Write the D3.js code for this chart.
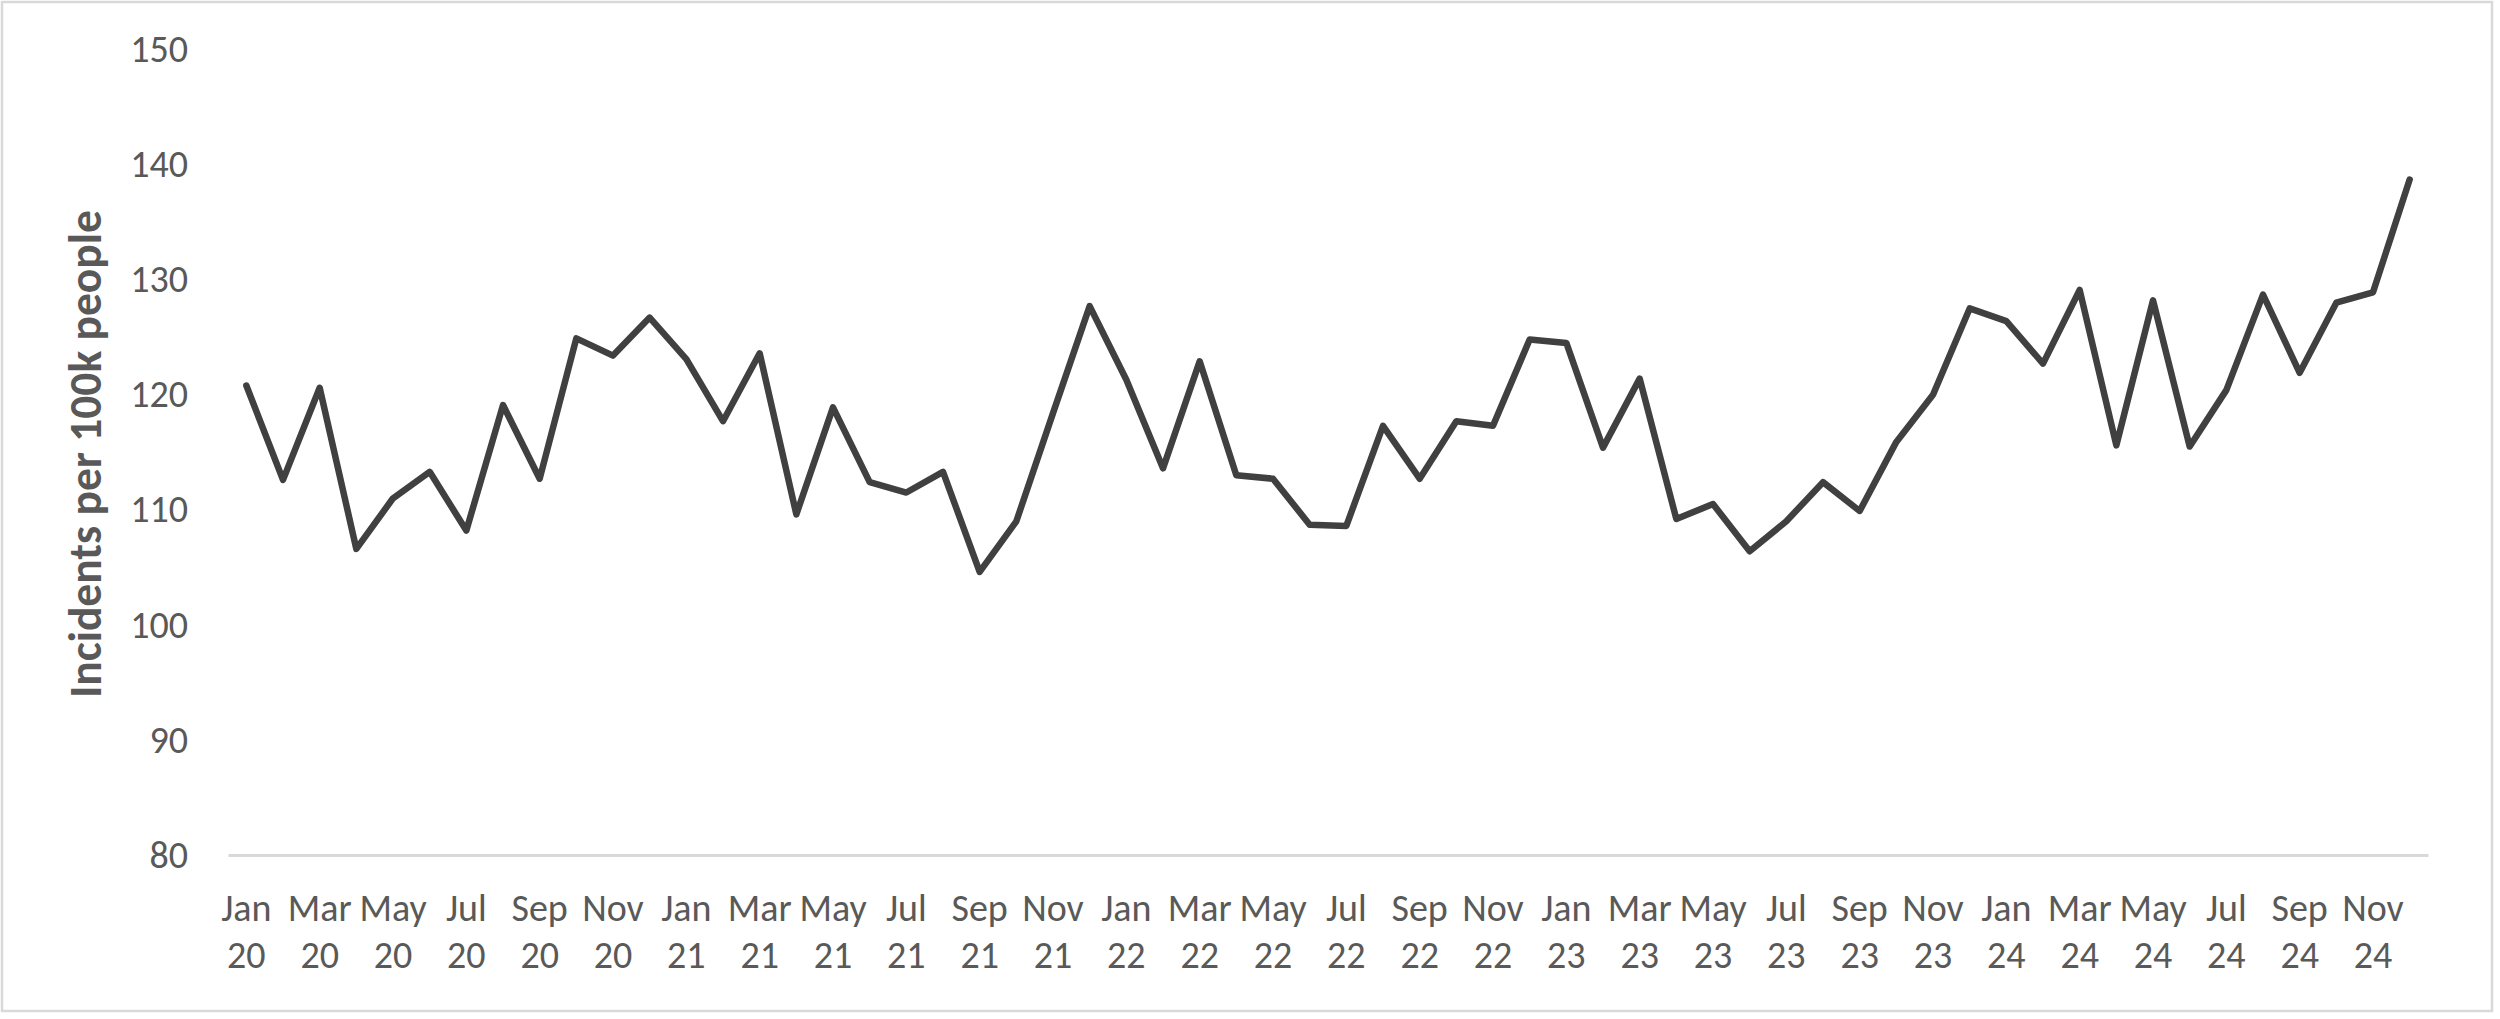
<!DOCTYPE html>
<html>
<head>
<meta charset="utf-8">
<title>Incidents per 100k people</title>
<script src="https://cdn.jsdelivr.net/npm/d3@7"></script>
<style>
  html, body { margin: 0; padding: 0; background: #fff; }
  #chart { width: 2500px; height: 1019px; }
</style>
</head>
<body>
<div id="chart"></div>
<script>
// 月份 / 年份
const monthNames = ['Jan', 'Feb', 'Mar', 'Apr', 'May', 'Jun', 'Jul', 'Aug', 'Sep', 'Oct', 'Nov', 'Dec']
const years = ['20', '21', '22', '23', '24']
// monthly incidents per 100k people, Jan 20 .. Dec 24
const values = [
  120.8, 112.6, 120.6, 106.6, 111.0, 113.3, 108.2, 119.1, 112.7, 124.9, 123.4, 126.7,
  123.1, 117.7, 123.6, 109.6, 118.9, 112.4, 111.5, 113.3, 104.6, 109.0, 118.4, 127.7,
  121.3, 113.6, 122.9, 113.0, 112.7, 108.7, 108.6, 117.3, 112.7, 117.7, 117.3, 124.8,
  124.5, 115.4, 121.4, 109.2, 110.5, 106.4, 109.0, 112.4, 109.9, 115.9, 120.0, 127.5,
  126.4, 122.7, 129.1, 115.6, 128.2, 115.5, 120.4, 128.7, 121.9, 128.0, 128.9, 138.7
]
const yTicks = [80, 90, 100, 110, 120, 130, 140, 150]
const yTitle = 'Incidents per 100k people'

class LineChart {
  /**
   * default settings
   */
  defaultSetting () {
    return {
      width: 2500,
      height: 1019,
      margin: { top: 49.5, right: 72, bottom: 164, left: 228 },
      lineColor: '#404040',
      lineWidth: 6.5,
      axisColor: '#d9d9d9',
      textColor: '#595959',
      font: 'Carlito, Calibri, Lato, sans-serif'
    }
  }

  constructor (selector, opt) {
    this.config = Object.assign({}, this.defaultSetting(), opt)
    const { width, height } = this.config
    this.svg = d3.select(selector)
      .append('svg')
      .attr('width', width)
      .attr('height', height)
    // outer frame
    this.svg.append('rect')
      .attr('x', 2)
      .attr('y', 2)
      .attr('width', width - 10)
      .attr('height', height - 10)
      .attr('fill', '#fff')
      .attr('stroke', this.config.axisColor)
      .attr('stroke-width', 2.5)
  }

  render (categories, data) {
    const { width, height, margin, textColor, font } = this.config

    this.x = d3.scaleBand()
      .domain(categories)
      .range([margin.left, width - margin.right])
    this.y = d3.scaleLinear()
      .domain([yTicks[0], yTicks[yTicks.length - 1]])
      .range([height - margin.bottom, margin.top])

    this.renderYAxis()
    this.renderXAxis(categories)
    this.renderLine(categories, data)

    // y axis title
    this.svg.append('text')
      .attr('transform', `translate(101, 454) rotate(-90)`)
      .attr('text-anchor', 'middle')
      .attr('fill', textColor)
      .style('font-family', font)
      .style('font-weight', 'bold')
      .style('font-size', '45.5px')
      .text(yTitle)
  }

  renderYAxis () {
    const { margin, textColor, font } = this.config
    const g = this.svg.append('g')
      .attr('transform', `translate(${margin.left}, 0)`)
      .call(d3.axisLeft(this.y).tickValues(yTicks).tickSize(0).tickPadding(40))
    g.select('.domain').remove()
    g.selectAll('text')
      .attr('fill', textColor)
      .style('font-family', font)
      .style('font-size', '38px')
  }

  renderXAxis (categories) {
    const { height, margin, axisColor, textColor, font } = this.config
    const shown = categories.filter((d, i) => i % 2 === 0)
    const g = this.svg.append('g')
      .attr('transform', `translate(0, ${height - margin.bottom})`)
      .call(d3.axisBottom(this.x).tickValues(shown).tickSize(0).tickSizeOuter(0))
    g.select('.domain')
      .attr('stroke', axisColor)
      .attr('stroke-width', 3)
    // two-line labels: month / year
    g.selectAll('text')
      .attr('y', 0)
      .attr('dy', null)
      .attr('fill', textColor)
      .style('font-family', font)
      .style('font-size', '38px')
      .each(function (d) {
        const parts = d.split(' ')
        const t = d3.select(this).text(null)
        t.append('tspan').attr('x', 0).attr('y', 66).text(parts[0])
        t.append('tspan').attr('x', 0).attr('y', 113).text(parts[1])
      })
  }

  renderLine (categories, data) {
    const { lineColor, lineWidth } = this.config
    const half = this.x.bandwidth() / 2
    const line = d3.line()
      .x((d, i) => this.x(categories[i]) + half)
      .y(d => this.y(d))
    this.svg.append('path')
      .datum(data)
      .attr('d', line)
      .attr('fill', 'none')
      .attr('stroke', lineColor)
      .attr('stroke-width', lineWidth)
      .attr('stroke-linejoin', 'round')
      .attr('stroke-linecap', 'round')
  }
}

const categories = years.flatMap(y => monthNames.map(m => `${m} ${y}`))
const chart = new LineChart('#chart')
chart.render(categories, values)
</script>
</body>
</html>
